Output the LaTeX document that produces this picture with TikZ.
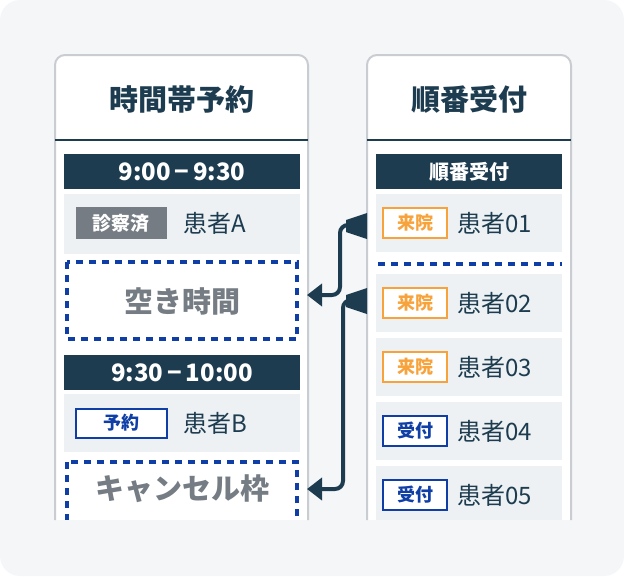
\documentclass[tikz,border=0pt]{standalone}
\usepackage{fontspec}
\setmainfont{Noto Sans CJK JP}
\usetikzlibrary{positioning,arrows.meta}
\definecolor{navy}{HTML}{1D3C50}
\definecolor{rowgray}{HTML}{EEF1F3}
\definecolor{bggray}{HTML}{F5F6F8}
\definecolor{tagblue}{HTML}{0F3FA6}
\definecolor{tagorange}{HTML}{F7A23A}
\definecolor{donegray}{HTML}{757C83}
\definecolor{edgegray}{HTML}{C9CDD2}
\tikzset{
  band/.style={fill=navy},
  row/.style={fill=rowgray},
  slot/.style={draw=tagblue, line width=3.2pt, dash pattern=on 7pt off 6pt, fill=white},
  tag/.style={draw=#1, line width=2pt, text=#1, fill=white, minimum width=64pt, minimum height=30pt,
    inner sep=0pt, font=\bfseries\fontsize{18}{18}\selectfont},
  who/.style={text=navy, font=\fontsize{24}{24}\selectfont, anchor=west},
  flow/.style={navy, line width=4pt, rounded corners=8pt, -{Triangle[length=15pt,width=22pt]}}
}
\begin{document}
\begin{tikzpicture}[x=1pt,y=-1pt]
  \useasboundingbox (0,0) rectangle (624,576);
  \fill[bggray, rounded corners=20pt] (0,0) rectangle (624,576);
  % panels
  \foreach \xa/\xb in {55/308, 367/571}{
    \fill[white, rounded corners=10pt] (\xa,55) rectangle (\xb,540);
    \fill[bggray] (\xa-2,520) rectangle (\xb+2,545);
    \draw[edgegray, line width=2pt, rounded corners=10pt] (\xa,520) -- (\xa,55) -- (\xb,55) -- (\xb,520);
    \draw[navy, line width=2.5pt] (\xa,140) -- (\xb,140);
  }
  \node[text=navy, font=\bfseries\fontsize{29}{29}\selectfont] (lhead) at (181.5,99) {時間帯予約};
  \node[text=navy, font=\bfseries\fontsize{29}{29}\selectfont] (rhead) at (469,99) {順番受付};
  % left column
  \fill[band] (64,154) rectangle (300,189);
  \node[text=white, font=\bfseries\fontsize{24}{24}\selectfont] (t1) at (182,171.5) {9:00\,−\,9:30};
  \fill[row] (64,194) rectangle (300,254);
  \node[fill=donegray, text=white, minimum width=91pt, minimum height=32pt, inner sep=0pt,
    font=\bfseries\fontsize{19}{19}\selectfont] (doneA) at (121,223) {診察済};
  \node[who] (pA) at (180,223) {患者A};
  \draw[slot] (67,262) rectangle (297,339);
  \node[text=donegray, font=\bfseries\fontsize{29}{29}\selectfont] (free) at (182,301) {空き時間};
  \fill[band] (64,355) rectangle (300,390);
  \node[text=white, font=\bfseries\fontsize{24}{24}\selectfont] (t2) at (182,372.5) {9:30\,−\,10:00};
  \fill[row] (64,394) rectangle (300,452);
  \node[tag=tagblue, minimum width=91pt, minimum height=29pt] (resB) at (121,423) {予約};
  \node[who] (pB) at (180,423) {患者B};
  \draw[slot] (67,462) rectangle (297,530);
  \fill[bggray] (60,520) rectangle (304,545);
  \node[text=donegray, font=\bfseries\fontsize{29}{29}\selectfont] (cancel) at (182,489) {キャンセル枠};
  % right column
  \fill[band] (376,154) rectangle (562,189);
  \node[text=white, font=\bfseries\fontsize{20}{20}\selectfont] (t3) at (469,171.5) {順番受付};
  \foreach \y/\lab/\col [count=\i] in {223/01/tagorange, 303/02/tagorange, 367/03/tagorange, 431/04/tagblue, 495/05/tagblue}{
    \fill[row] (376,\y-29) rectangle (562,{min(\y+29,520)});
    \node[tag=\col] (tag\i) at (415,\y) {\ifnum\i<4 来院\else 受付\fi};
    \node[who] (p\i) at (454,\y) {患者\lab};
  }
  \draw[tagblue, line width=3.2pt, dash pattern=on 7pt off 6pt] (378,264) -- (562,264);
  % connectors
  \coordinate (s1) at (352,225);
  \coordinate (s2) at (352,300);
  \fill[navy] (367,213) -- (367,239) -- (346,232) -- (346,220) -- cycle;
  \fill[navy] (367,288) -- (367,314) -- (346,307) -- (346,295) -- cycle;
  \draw[flow] (s1) -- (340,225) -- (340,295) -- (307,295);
  \draw[flow] (s2) -- (343,300) -- (343,489) -- (307,489);
\end{tikzpicture}
\end{document}
